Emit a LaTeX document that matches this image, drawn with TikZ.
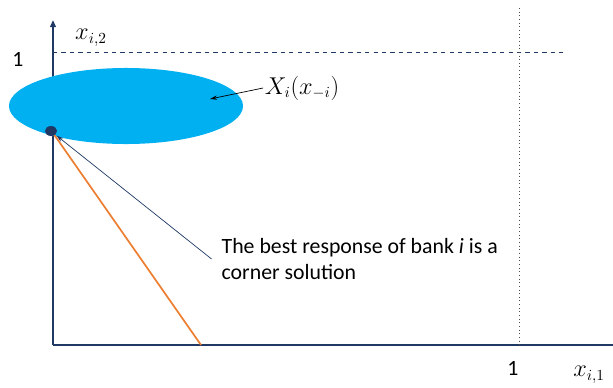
\documentclass[tikz,border=0pt]{standalone}
\usepackage{amsmath}
\usepackage{fontspec}
\setmainfont{Carlito}
\usetikzlibrary{positioning,arrows.meta,shapes.geometric}
\definecolor{axisblue}{RGB}{31,56,100}
\definecolor{setblue}{RGB}{0,176,240}
\definecolor{lineorange}{RGB}{237,125,49}

\begin{document}
\begin{tikzpicture}[
    x=0.025cm, y=-0.025cm,
    axis/.style={draw=axisblue, line width=1.3pt},
    guide/.style={draw=axisblue, dashed, line width=0.6pt},
    lbl/.style={font=\fontsize{15.5}{19}\selectfont, inner sep=1pt},
    mlbl/.style={font=\fontsize{16}{19}\selectfont, inner sep=1pt}
]
    \useasboundingbox (0,0) rectangle (613,388);

    % Axes
    \coordinate (origin) at (53,345);
    \coordinate (ytop) at (53,20);
    \coordinate (xend) at (613,345);
    \draw[axis, -{Triangle[length=5pt,width=4pt]}] (origin) -- (ytop);
    \draw[axis] (origin) -- (xend);
    \node[mlbl] (ylab) at (91,38) {$x_{i,2}$};
    \node[mlbl] (xlab) at (589,375) {$x_{i,1}$};
    \node[lbl] (yone) at (18,59) {1};
    \node[lbl] (xone) at (513,368) {1};

    % Bounds
    \coordinate (dashl) at (53,52);
    \coordinate (dashr) at (565,52);
    \draw[guide] (dashl) -- (dashr);
    \coordinate (dottop) at (519,8);
    \coordinate (dotbot) at (519,345);
    \draw[black!70, dotted, line width=0.6pt] (dottop) -- (dotbot);

    % Set and best response
    \node[ellipse, fill=setblue, minimum width=5.85cm, minimum height=1.9cm, inner sep=0pt] (set) at (126,106) {};
    \coordinate (orangeend) at (201,345);
    \draw[lineorange, line width=1.2pt] (53,133) -- (orangeend);
    \node[ellipse, fill=axisblue, minimum width=0.3cm, minimum height=0.25cm, inner sep=0pt] (best) at (51,131) {};

    % Labels
    \node[mlbl] (setlab) at (302,88) {$X_i(x_{-i})$};
    \coordinate (setpt) at (210,99);
    \draw[-{Stealth[length=5pt,width=3pt]}, black, line width=0.5pt] (setlab.west) -- (setpt);
    \node[lbl, anchor=west, align=left] (note) at (220,259)
        {The best response of bank \textit{i} is a\\corner solution};
    \draw[-{Stealth[length=5pt,width=3pt]}, axisblue, line width=0.5pt, shorten >=1pt] ([xshift=-6pt]note.west) -- (best.south east);
\end{tikzpicture}
\end{document}
